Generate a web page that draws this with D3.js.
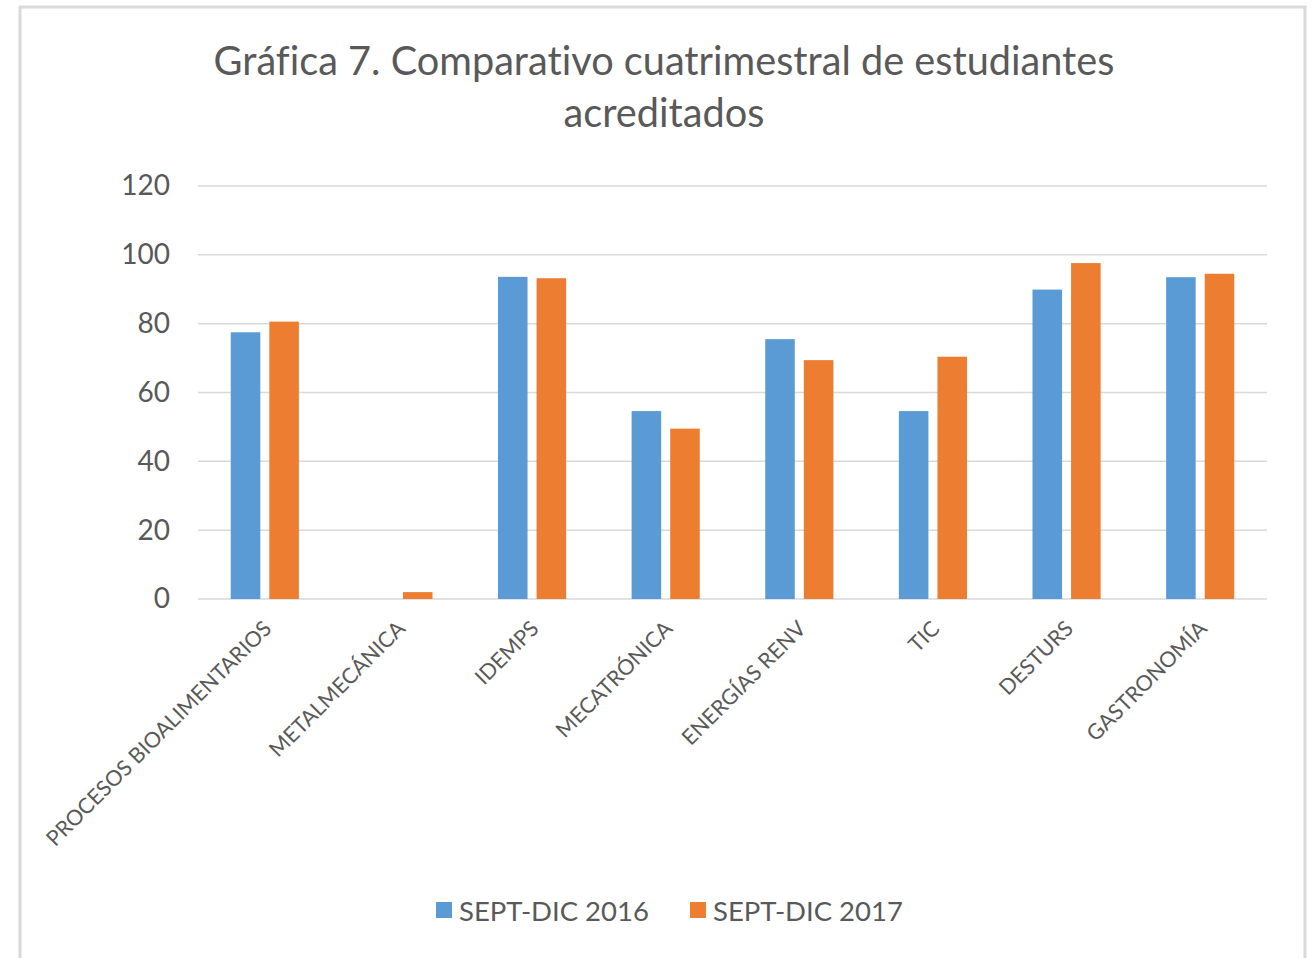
<!DOCTYPE html>
<html>
<head>
<meta charset="utf-8">
<script src="https://cdn.jsdelivr.net/npm/d3@7"></script>
<style>
  body { margin: 0; background: #fff; }
  text { font-family: Lato, "Open Sans", sans-serif; fill: #595959; font-variant-ligatures: none; }
</style>
</head>
<body>
<div id="chart"></div>
<script>
// values
var categories = ["PROCESOS BIOALIMENTARIOS", "METALMECÁNICA", "IDEMPS", "MECATRÓNICA",
  "ENERGÍAS RENV", "TIC", "DESTURS", "GASTRONOMÍA"];
var seriesNames = ["SEPT-DIC 2016", "SEPT-DIC 2017"];
var sept2016 = [77.5, 0, 93.6, 54.6, 75.5, 54.6, 89.9, 93.5];
var sept2017 = [80.6, 2, 93.2, 49.5, 69.4, 70.4, 97.6, 94.5];
var yTicks = [0, 20, 40, 60, 80, 100, 120];
var colors = ["#5B9BD5", "#ED7D31"];

var width = 1314, height = 958;
var margin = {top: 186, right: 47, bottom: 359, left: 198};

var svg = d3.select("#chart").append("svg")
  .attr("width", width)
  .attr("height", height);

// chart frame
svg.append("rect")
  .attr("x", 20).attr("y", 7)
  .attr("width", 1285).attr("height", 980)
  .attr("fill", "#fff")
  .attr("stroke", "#d9d9d9")
  .attr("stroke-width", 3);

// title
svg.append("text")
  .attr("x", 664).attr("y", 75)
  .attr("text-anchor", "middle")
  .style("font-size", "39.7px")
  .text("Gráfica 7. Comparativo cuatrimestral de estudiantes");
svg.append("text")
  .attr("x", 664).attr("y", 127)
  .attr("text-anchor", "middle")
  .style("font-size", "39.7px")
  .text("acreditados");

var x0 = d3.scaleBand()
  .domain(categories)
  .range([margin.left, width - margin.right]);

var groupW = x0.bandwidth() * 0.51;
var x1 = d3.scaleBand()
  .domain(seriesNames)
  .range([0, groupW])
  .paddingInner(0.234);

var y = d3.scaleLinear()
  .domain([0, 120])
  .range([height - margin.bottom, margin.top]);

// gridlines
svg.append("g")
  .selectAll("line")
  .data(yTicks)
  .join("line")
  .attr("x1", margin.left)
  .attr("x2", width - margin.right)
  .attr("y1", d => y(d))
  .attr("y2", d => y(d))
  .attr("stroke", "#d9d9d9")
  .attr("stroke-width", 1.5);

// y axis labels
var yAxis = svg.append("g")
  .attr("transform", "translate(" + (margin.left - 28) + ",0)")
  .call(d3.axisLeft(y).tickValues(yTicks).tickSize(0).tickPadding(0));
yAxis.select(".domain").remove();
yAxis.selectAll("text")
  .style("font-size", "28px")
  .attr("fill", "#595959")
  .style("font-family", "Lato, sans-serif");

// bars
var data = categories.map(function(c, i) {
  return {cat: c, vals: [sept2016[i], sept2017[i]]};
});

var groups = svg.append("g")
  .selectAll("g")
  .data(data)
  .join("g")
  .attr("transform", d => "translate(" + (x0(d.cat) + (x0.bandwidth() - groupW) / 2) + ",0)");

groups.selectAll("rect")
  .data(d => d.vals.map((v, j) => ({name: seriesNames[j], value: v, idx: j})))
  .join("rect")
  .attr("x", d => x1(d.name))
  .attr("width", x1.bandwidth())
  .attr("y", d => y(d.value))
  .attr("height", d => y(0) - y(d.value))
  .attr("fill", d => colors[d.idx]);

// x axis labels, rotated
svg.append("g")
  .selectAll("text")
  .data(categories)
  .join("text")
  .attr("text-anchor", "end")
  .attr("transform", d => "translate(" + (x0(d) + x0.bandwidth() / 2 + 8) + "," + (y(0) + 31) + ") rotate(-45)")
  .style("font-size", "21.5px")
  .text(d => d);

// legend
var legend = svg.append("g")
  .selectAll("g")
  .data(seriesNames)
  .join("g")
  .attr("transform", (d, i) => "translate(" + (436 + i * 254) + ",902)");
legend.append("rect")
  .attr("width", 16).attr("height", 16)
  .attr("fill", (d, i) => colors[i]);
legend.append("text")
  .attr("x", 23).attr("y", 19)
  .style("font-size", "27.5px")
  .text(d => d);
</script>
</body>
</html>
